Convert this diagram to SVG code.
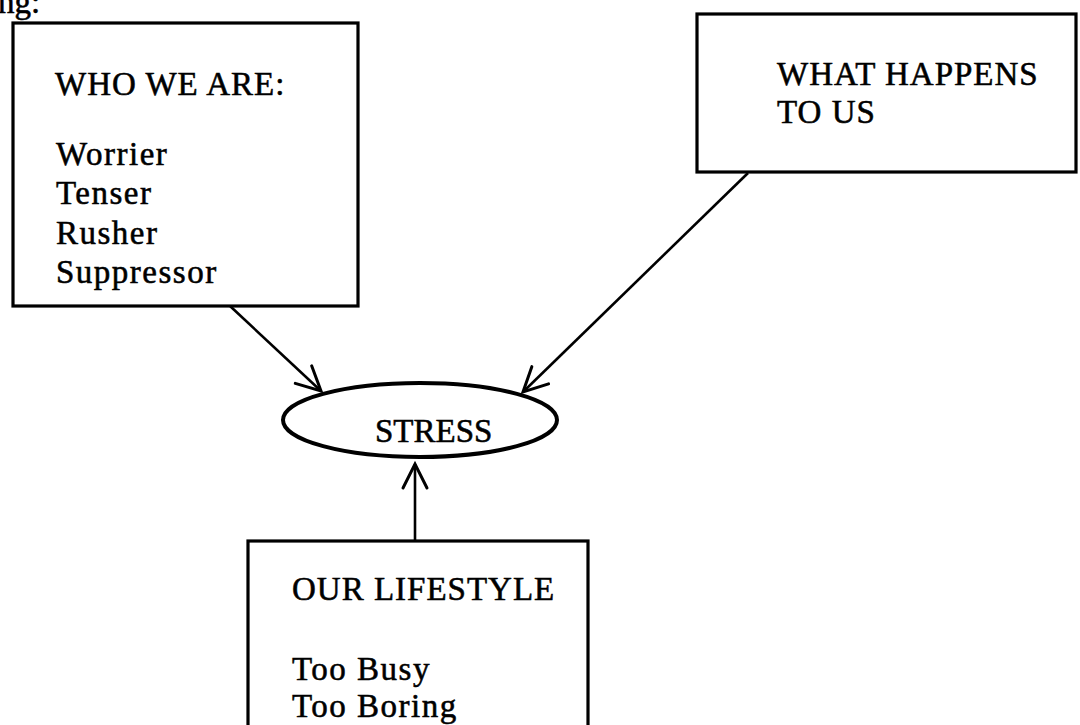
<svg xmlns="http://www.w3.org/2000/svg" width="1080" height="725" viewBox="0 0 1080 725">
  <style>
    .box { fill: none; stroke: #000; stroke-width: 3.2; }
    .oval { fill: none; stroke: #000; stroke-width: 4; }
    .link { fill: none; stroke: #000; stroke-width: 2.6; marker-end: url(#chevron); }
    text { font-family: "Liberation Serif", "Times New Roman", serif; font-size: 33px; fill: #000; stroke: #000; stroke-width: 0.55px; }
    .caps { letter-spacing: 1px; }
    .lower { letter-spacing: 1.5px; }
  </style>
  <defs>
    <!-- open chevron arrowhead -->
    <marker id="chevron" markerUnits="userSpaceOnUse" markerWidth="40" markerHeight="40" viewBox="-30 -20 40 40" refX="0" refY="0" orient="auto">
      <path d="M-24,-12 L0,0 L-24,12" fill="none" stroke="#000" stroke-width="3" stroke-linecap="round" stroke-linejoin="miter"/>
    </marker>
  </defs>

  <rect width="1080" height="725" fill="#fff"/>

  <!-- tail of the preceding sentence -->
  <text x="-2" y="13">ng:</text>

  <g id="connectors">
    <line class="link" x1="230" y1="306" x2="321" y2="391"/>
    <line class="link" x1="748" y1="173" x2="523" y2="392"/>
    <line class="link" x1="415" y1="541" x2="415" y2="464"/>
  </g>

  <g id="who-we-are">
    <rect class="box" x="13" y="23" width="345" height="283"/>
    <text class="caps" x="55" y="95">WHO WE ARE:</text>
    <text class="lower" x="56" y="165">Worrier</text>
    <text class="lower" x="56" y="204">Tenser</text>
    <text class="lower" x="56" y="244">Rusher</text>
    <text class="lower" x="56" y="283">Suppressor</text>
  </g>

  <g id="what-happens">
    <rect class="box" x="697" y="14" width="379" height="158"/>
    <text class="caps" x="777" y="85">WHAT HAPPENS</text>
    <text class="caps" x="777" y="123">TO US</text>
  </g>

  <g id="stress">
    <ellipse class="oval" cx="420" cy="420" rx="137" ry="37"/>
    <text x="375" y="442">STRESS</text>
  </g>

  <g id="our-lifestyle">
    <rect class="box" x="248" y="541" width="340" height="200"/>
    <text class="caps" x="292" y="600">OUR LIFESTYLE</text>
    <text class="lower" x="292" y="680">Too Busy</text>
    <text class="lower" x="292" y="717">Too Boring</text>
  </g>
</svg>
